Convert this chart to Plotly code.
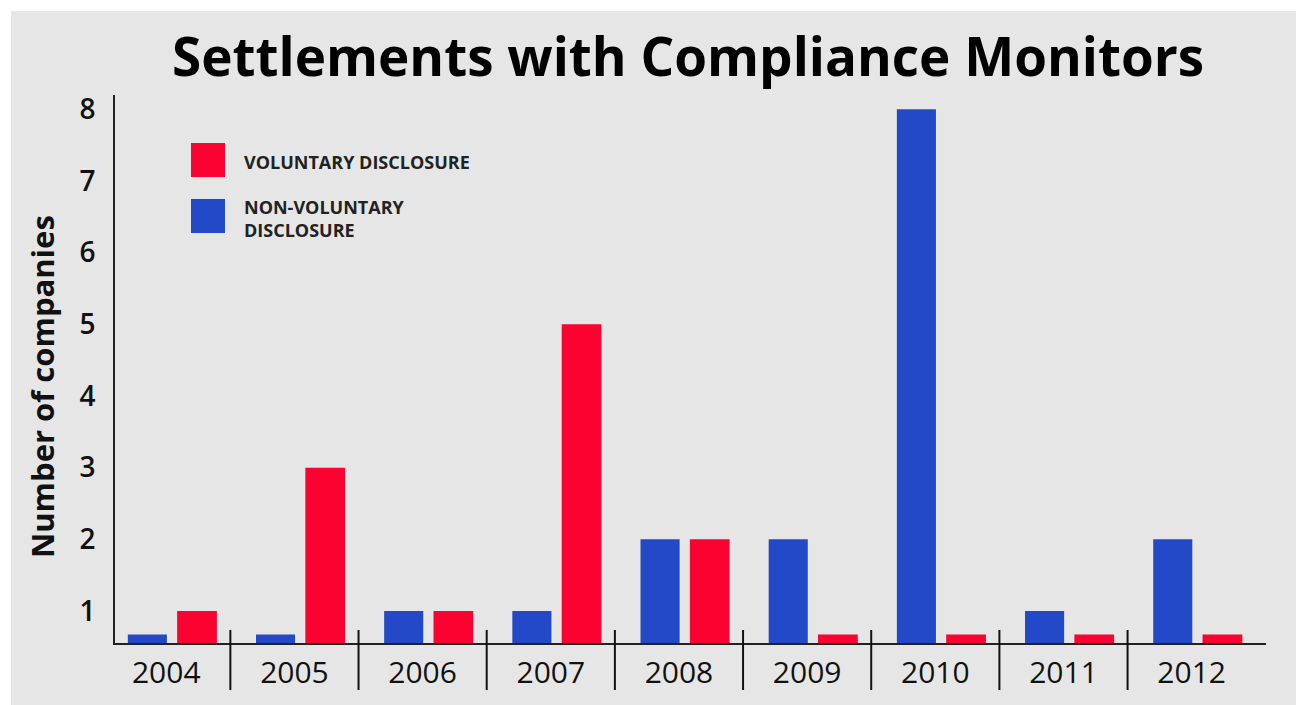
import plotly.graph_objects as go

# ---- data ----
years = ["2004", "2005", "2006", "2007", "2008", "2009", "2010", "2011", "2012"]
non_voluntary = [0, 0, 1, 1, 2, 2, 8, 1, 2]
voluntary = [1, 3, 1, 5, 2, 0, 0, 0, 0]
y_ticks = [1, 2, 3, 4, 5, 6, 7, 8]

# ---- style ----
RED = "#fc0230"
BLUE = "#2348c8"
BG = "#e6e6e6"
FONT = "Open Sans"
Y_FLOOR = 0.553      # value at which the axis baseline sits
STUB = 0.12          # height of the marker drawn for zero counts
Y_TOP = 8.2

W, H = 1296, 705
L, R, T, B = 115, 30, 95, 62
PW, PH = W - L - R, H - T - B


def px_x(px):
    return (px - L) / PW


def px_y(py):
    return (H - B - py) / PH


def heights(vals):
    return [v - Y_FLOOR if v > 0 else STUB for v in vals]


fig = go.Figure()
fig.add_trace(go.Bar(
    x=years, y=heights(non_voluntary), base=Y_FLOOR,
    marker=dict(color=BLUE, line=dict(width=0)),
    width=0.305, offset=-0.30, name="NON-VOLUNTARY DISCLOSURE",
    customdata=non_voluntary, hovertemplate="%{x}: %{customdata}<extra></extra>",
))
fig.add_trace(go.Bar(
    x=years, y=heights(voluntary), base=Y_FLOOR,
    marker=dict(color=RED, line=dict(width=0)),
    width=0.31, offset=0.085, name="VOLUNTARY DISCLOSURE",
    customdata=voluntary, hovertemplate="%{x}: %{customdata}<extra></extra>",
))

shapes = []
# gray panel with white strip at top/left
shapes.append(dict(type="rect", xref="paper", yref="paper",
                   x0=px_x(11), x1=px_x(W + 5), y0=px_y(H + 5), y1=px_y(11),
                   fillcolor=BG, line=dict(width=0), layer="below"))
# separators between years
for i in range(len(years) - 1):
    shapes.append(dict(type="line", xref="x", yref="paper",
                       x0=i + 0.5, x1=i + 0.5, y0=px_y(690), y1=px_y(630),
                       line=dict(color="#111111", width=2)))
# legend swatches
shapes.append(dict(type="rect", xref="paper", yref="paper",
                   x0=px_x(191), x1=px_x(225), y0=px_y(177), y1=px_y(143),
                   fillcolor=RED, line=dict(width=0)))
shapes.append(dict(type="rect", xref="paper", yref="paper",
                   x0=px_x(191), x1=px_x(225), y0=px_y(233), y1=px_y(199),
                   fillcolor=BLUE, line=dict(width=0)))

annotations = [
    dict(text="<b>Settlements with Compliance Monitors</b>", xref="paper", yref="paper",
         x=px_x(688), y=px_y(55), showarrow=False, xanchor="center", yanchor="middle",
         font=dict(family=FONT, size=53, color="#000000")),
    dict(text="<b>Number of companies</b>", xref="paper", yref="paper",
         x=px_x(42), y=px_y(387), showarrow=False, textangle=-90,
         xanchor="center", yanchor="middle",
         font=dict(family=FONT, size=31, color="#111111")),
    dict(text="<b>VOLUNTARY DISCLOSURE</b>", xref="paper", yref="paper",
         x=px_x(242), y=px_y(162), showarrow=False, xanchor="left", yanchor="middle",
         font=dict(family=FONT, size=18, color="#222222")),
    dict(text="<b>NON-VOLUNTARY<br>DISCLOSURE</b>", xref="paper", yref="paper",
         x=px_x(242), y=px_y(218), showarrow=False, xanchor="left", yanchor="middle",
         align="left", font=dict(family=FONT, size=18, color="#222222")),
]

fig.update_layout(
    width=W, height=H,
    margin=dict(l=L, r=R, t=T, b=B, autoexpand=False),
    paper_bgcolor="#ffffff", plot_bgcolor=BG,
    barmode="overlay", showlegend=False,
    shapes=shapes, annotations=annotations,
    font=dict(family=FONT, color="#111111"),
)
fig.update_xaxes(
    type="category", range=[-0.4, 8.58], showgrid=False, zeroline=False,
    showline=True, linecolor="#222222", linewidth=2, automargin=False,
    ticks="outside", ticklen=2, tickcolor="rgba(0,0,0,0)",
    tickfont=dict(family=FONT, size=30, color="#111111", weight=500),
)
fig.update_yaxes(
    range=[Y_FLOOR, Y_TOP], showgrid=False, zeroline=False,
    showline=True, linecolor="#222222", linewidth=2, automargin=False,
    tickmode="array", tickvals=y_ticks, ticktext=[str(v) for v in y_ticks],
    ticks="outside", ticklen=12, tickcolor="rgba(0,0,0,0)",
    tickfont=dict(family=FONT, size=28, color="#111111", weight=600),
)

fig.write_html("out.html")
